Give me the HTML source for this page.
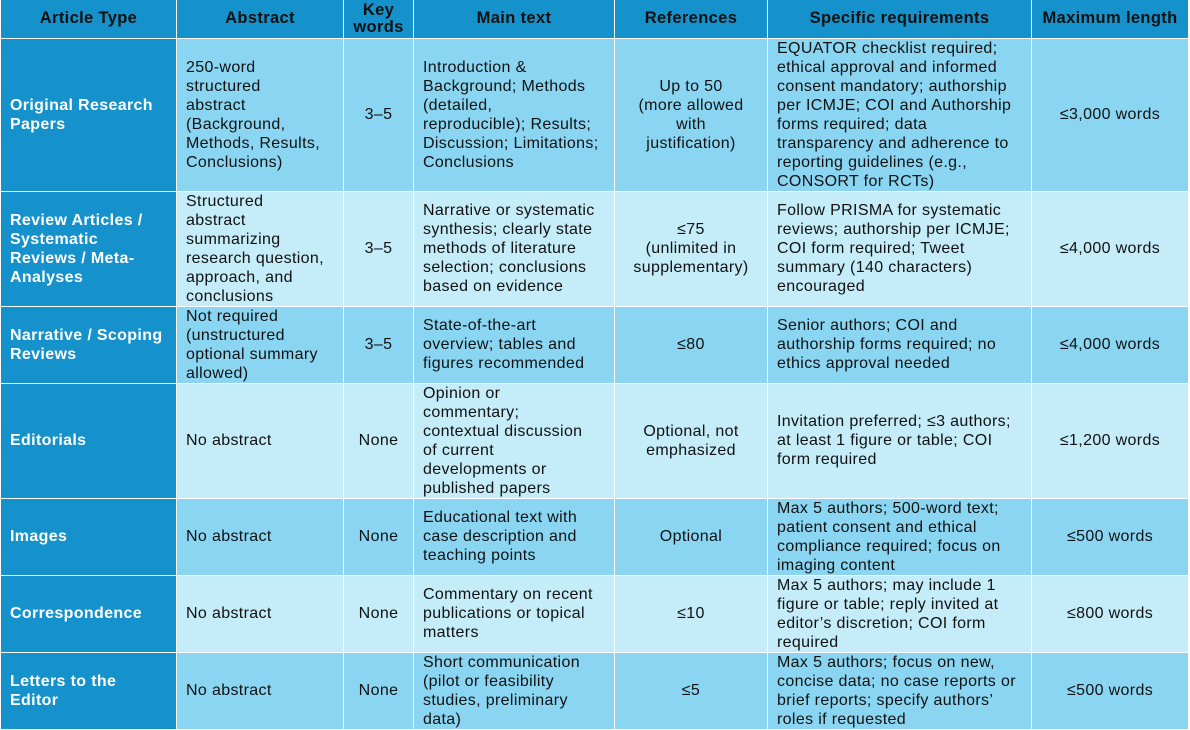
<!DOCTYPE html>
<html><head><meta charset="utf-8"><style>
body{margin:0;background:#fff;width:1190px;height:729px;overflow:hidden}
table{border-collapse:collapse;table-layout:fixed;position:absolute;left:0;top:0;width:1188px}
td,th{border:1px solid #fff;padding:0 0 0 9px;font-family:"Liberation Sans",sans-serif;font-size:16px;line-height:19px;letter-spacing:0.35px;color:#111;vertical-align:middle;text-align:left;overflow:hidden;white-space:nowrap}
th{background:#1592cc;font-weight:bold;text-align:center;padding:0;color:#111;border-top:none;font-size:16.5px}
th+th{border-left:1px dotted #fff}
td.t{background:#1592cc;color:#fff;font-weight:bold}
tr.a td:not(.t){background:#8ad6f2}
tr.b td:not(.t){background:#c5ecf9}
td.c{text-align:center;padding:0}
</style></head><body>
<table>
<colgroup><col style="width:176px"><col style="width:167px"><col style="width:70px"><col style="width:201px"><col style="width:153px"><col style="width:264px"><col style="width:157px"></colgroup>
<tr style="height:38px"><th>Article Type</th><th>Abstract</th><th style="line-height:17px">Key<br>words</th><th>Main text</th><th>References</th><th>Specific requirements</th><th>Maximum length</th></tr>
<tr class="a" style="height:152px"><td class="t">Original Research<br>Papers</td><td>250-word<br>structured<br>abstract<br>(Background,<br>Methods, Results,<br>Conclusions)</td><td class="c">3–5</td><td>Introduction &amp;<br>Background; Methods<br>(detailed,<br>reproducible); Results;<br>Discussion; Limitations;<br>Conclusions</td><td class="c">Up to 50<br>(more allowed<br>with<br>justification)</td><td>EQUATOR checklist required;<br>ethical approval and informed<br>consent mandatory; authorship<br>per ICMJE; COI and Authorship<br>forms required; data<br>transparency and adherence to<br>reporting guidelines (e.g.,<br>CONSORT for RCTs)</td><td class="c">≤3,000 words</td></tr>
<tr class="b" style="height:113px"><td class="t">Review Articles /<br>Systematic<br>Reviews / Meta-<br>Analyses</td><td>Structured<br>abstract<br>summarizing<br>research question,<br>approach, and<br>conclusions</td><td class="c">3–5</td><td>Narrative or systematic<br>synthesis; clearly state<br>methods of literature<br>selection; conclusions<br>based on evidence</td><td class="c">≤75<br>(unlimited in<br>supplementary)</td><td>Follow PRISMA for systematic<br>reviews; authorship per ICMJE;<br>COI form required; Tweet<br>summary (140 characters)<br>encouraged</td><td class="c">≤4,000 words</td></tr>
<tr class="a" style="height:76px"><td class="t">Narrative / Scoping<br>Reviews</td><td>Not required<br>(unstructured<br>optional summary<br>allowed)</td><td class="c">3–5</td><td>State-of-the-art<br>overview; tables and<br>figures recommended</td><td class="c">≤80</td><td>Senior authors; COI and<br>authorship forms required; no<br>ethics approval needed</td><td class="c">≤4,000 words</td></tr>
<tr class="b" style="height:113px"><td class="t">Editorials</td><td>No abstract</td><td class="c">None</td><td>Opinion or<br>commentary;<br>contextual discussion<br>of current<br>developments or<br>published papers</td><td class="c">Optional, not<br>emphasized</td><td>Invitation preferred; ≤3 authors;<br>at least 1 figure or table; COI<br>form required</td><td class="c">≤1,200 words</td></tr>
<tr class="a" style="height:75px"><td class="t">Images</td><td>No abstract</td><td class="c">None</td><td>Educational text with<br>case description and<br>teaching points</td><td class="c">Optional</td><td>Max 5 authors; 500-word text;<br>patient consent and ethical<br>compliance required; focus on<br>imaging content</td><td class="c">≤500 words</td></tr>
<tr class="b" style="height:76px"><td class="t">Correspondence</td><td>No abstract</td><td class="c">None</td><td>Commentary on recent<br>publications or topical<br>matters</td><td class="c">≤10</td><td>Max 5 authors; may include 1<br>figure or table; reply invited at<br>editor’s discretion; COI form<br>required</td><td class="c">≤800 words</td></tr>
<tr class="a" style="height:76px"><td class="t">Letters to the<br>Editor</td><td>No abstract</td><td class="c">None</td><td>Short communication<br>(pilot or feasibility<br>studies, preliminary<br>data)</td><td class="c">≤5</td><td>Max 5 authors; focus on new,<br>concise data; no case reports or<br>brief reports; specify authors’<br>roles if requested</td><td class="c">≤500 words</td></tr>
</table>
</body></html>
